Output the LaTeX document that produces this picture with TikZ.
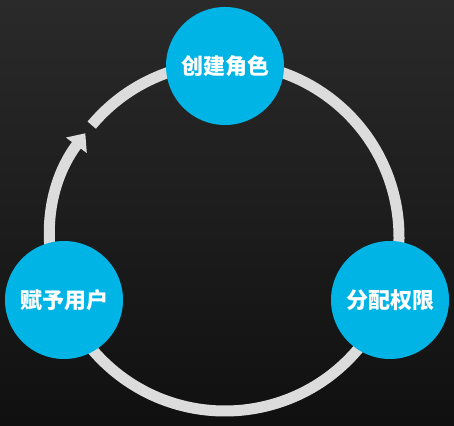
\documentclass[tikz,border=0pt]{standalone}
\usepackage{fontspec}
\newfontfamily\cjk{Noto Sans CJK SC}
\usetikzlibrary{arrows.meta}
\definecolor{bgtop}{HTML}{2A2A2A}
\definecolor{bgbot}{HTML}{101010}
\definecolor{ringc}{HTML}{DCDCDC}
\definecolor{cyanc}{HTML}{00B5E5}
\tikzset{
  stage/.style={circle, fill=cyanc, minimum size=118pt, inner sep=0pt,
    text=white, font=\cjk\bfseries\fontsize{22}{26}\selectfont},
  ring/.style={draw=ringc, line width=11pt}
}
\begin{document}
\begin{tikzpicture}[x=1pt,y=1pt]
\shade[top color=bgtop, bottom color=bgbot] (0,0) rectangle (454,425);
\useasboundingbox (0,0) rectangle (454,425);
\coordinate (c) at (225,188);
\draw[ring, -{Triangle[length=15pt,width=25pt]}] ([shift={(140:174)}]c) arc[start angle=140, end angle=-216.6, radius=174];
\node[stage] (create) at (225,359) {创建角色};
\node[stage] (assign) at (390,125) {分配权限};
\node[stage] (grant) at (64,125) {赋予用户};
\end{tikzpicture}
\end{document}
